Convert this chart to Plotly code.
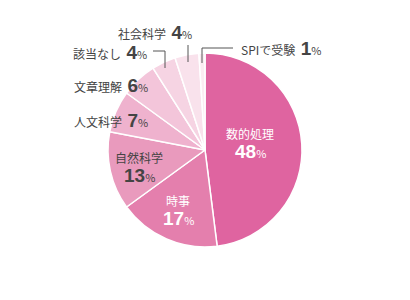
import plotly.graph_objects as go

categories = ["数的処理", "時事", "自然科学", "人文科学", "文章理解", "該当なし", "社会科学", "SPIで受験"]
values = [48, 17, 13, 7, 6, 4, 4, 1]
colors = ["#DF64A0", "#E47FAD", "#E99ABD", "#EFB2CE", "#F3C5DA", "#F6D4E3", "#F9E2EC", "#FBECF2"]

W, H = 410, 300
cx, cy, r = 205, 150, 97

fig = go.Figure(go.Pie(
    labels=categories, values=values, sort=False, direction="clockwise", rotation=0,
    marker=dict(colors=colors, line=dict(color="white", width=1.5)),
    textinfo="none", hoverinfo="skip", showlegend=False,
    domain=dict(x=[(cx - r) / W, (cx + r) / W], y=[1 - (cy + r) / H, 1 - (cy - r) / H]),
))

NUMF = "Liberation Sans"
JPF = "Noto Sans CJK JP"

def num_html(val):
    return (f"<span style='font-family:{NUMF};font-size:19px;font-weight:bold'>{val}</span>"
            f"<span style='font-size:11px'>%</span>")

# label anchor positions (pixels): x, y, alignment, two-line, colour
label_layout = {
    "数的処理": (250, 133, "center", True, "white"),
    "時事": (178, 200, "center", True, "white"),
    "自然科学": (139, 157, "center", True, "#444444"),
    "人文科学": (150, 120, "right", False, "#444444"),
    "文章理解": (150, 86, "right", False, "#444444"),
    "該当なし": (149, 52, "right", False, "#444444"),
    "社会科学": (194, 33, "right", False, "#444444"),
    "SPIで受験": (239, 48, "left", False, "#444444"),
}

for name, val in zip(categories, values):
    x, y, al, two, col = label_layout[name]
    if two:
        fig.add_annotation(x=x / W, y=1 - y / H, xref="paper", yref="paper",
                           xanchor="center", yanchor="middle", text=name, showarrow=False,
                           font=dict(family=JPF, size=12, color=col))
        fig.add_annotation(x=x / W, y=1 - (y + 18) / H, xref="paper", yref="paper",
                           xanchor="center", yanchor="middle", text=num_html(val), showarrow=False,
                           font=dict(family=JPF, size=12, color=col))
    else:
        fig.add_annotation(x=x / W, y=1 - y / H, xref="paper", yref="paper",
                           xanchor=al, yanchor="middle",
                           text=f"{name}  {num_html(val)}", showarrow=False,
                           font=dict(family=JPF, size=12, color=col))

# leader lines (pixels)
leaders = [
    [(153, 51), (165, 51), (165, 68)],
    [(188, 45), (188, 62)],
    [(233, 48), (202, 48), (202, 63)],
]
for pts in leaders:
    path = "M " + " L ".join(f"{x / W},{1 - y / H}" for x, y in pts)
    fig.add_shape(type="path", path=path, xref="paper", yref="paper",
                  line=dict(color="#555555", width=1))

fig.update_layout(
    width=W, height=H, margin=dict(l=0, r=0, t=0, b=0),
    paper_bgcolor="white", plot_bgcolor="white",
)
fig.write_html("out.html")
